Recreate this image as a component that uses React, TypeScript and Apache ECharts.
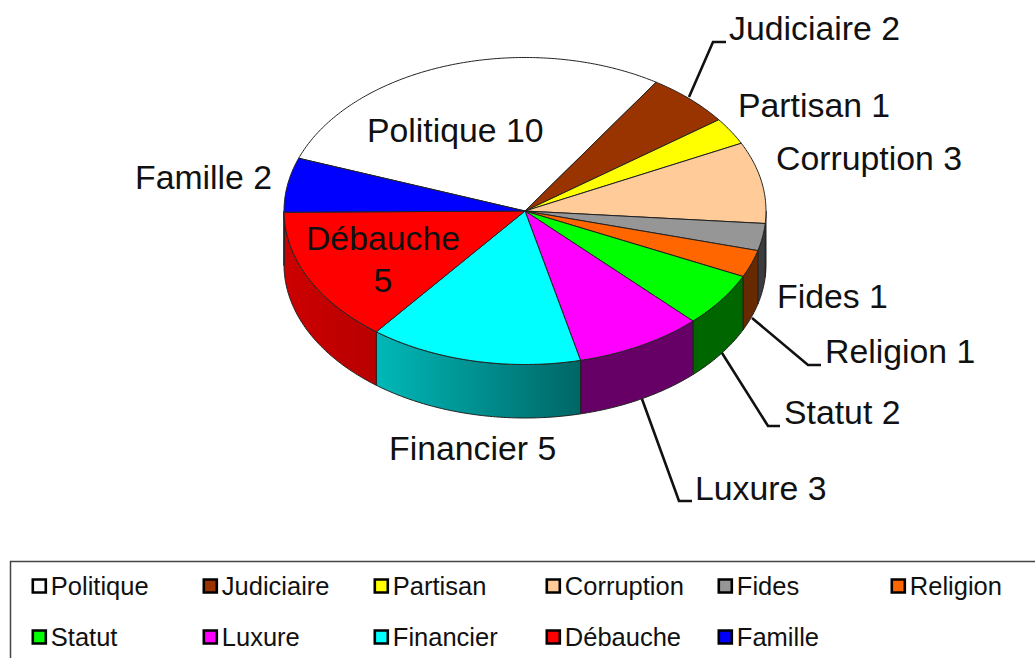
import React, { useEffect, useRef } from "react";
import * as echarts from "echarts";

const categories = ["Politique", "Judiciaire", "Partisan", "Corruption", "Fides", "Religion", "Statut", "Luxure", "Financier", "Débauche", "Famille"];
const values = [10, 2, 1, 3, 1, 1, 2, 3, 5, 5, 2];
const colors = ["#FFFFFF", "#993300", "#FFFF00", "#FFCC99", "#969696", "#FF6600", "#00FF00", "#FF00FF", "#00FFFF", "#FF0000", "#0000FF"];

// layout
const CX = 525, CY = 211, RX = 241, RY = 153.5, DEPTH = 53.5, START = -69.9;
const FONT = "Liberation Sans, Arial, sans-serif";
const LABEL_SIZE = 33.8;
const labelPos: [number, number][] = [
  [367, 130], [729, 28], [738, 105], [776, 158], [777, 296], [825, 351],
  [784, 412], [695, 488], [389, 448], [383, 259], [135, 177],
];
const leaders: ([number, number][] | null)[] = [
  null,
  [[689, 97], [713, 42], [726, 42]],
  null, null, null,
  [[752, 318], [808, 365], [821, 365]],
  [[722, 353], [768, 426], [780, 426]],
  [[642, 399], [679, 501], [692, 501]],
  null, null, null,
];
const legendCols = [31.5, 202.5, 373.5, 545.5, 717.5, 890.5];
const legendRows = [573, 624];
const LEGEND_PER_ROW = 6;

const total = values.reduce((a, b) => a + b, 0);
const pt = (deg: number, dy = 0): [number, number] => {
  const r = (deg * Math.PI) / 180;
  return [CX + RX * Math.sin(r), CY - RY * Math.cos(r) + dy];
};
const arc = (a0: number, a1: number, dy = 0) => {
  const n = Math.max(2, Math.ceil(Math.abs(a1 - a0) * 1.5));
  const out: [number, number][] = [];
  for (let i = 0; i <= n; i++) out.push(pt(a0 + ((a1 - a0) * i) / n, dy));
  return out;
};
const shade = (x: number) => {
  if (x <= 377) return 0.8 - ((x - 284) / 93) * 0.08;
  if (x >= 580) return 0.4;
  return 0.72 - ((x - 377) / 203) * 0.32;
};
const darken = (hex: string, k: number) => {
  const n = parseInt(hex.slice(1), 16);
  const c = [(n >> 16) & 255, (n >> 8) & 255, n & 255].map((v) => Math.round(v * k));
  return `rgb(${c[0]},${c[1]},${c[2]})`;
};

const makeRender = (i: number) => () => {
  const before = values.slice(0, i).reduce((a, b) => a + b, 0);
  const a0 = START + (before / total) * 360;
  const a1 = a0 + (values[i] / total) * 360;
  const children: any[] = [];
  // side wall: the part of the slice's rim on the front half of the ellipse
  const w0 = Math.max(a0, 90);
  const w1 = Math.min(a1, 270);
  if (w1 > w0) {
    const top = arc(w0, w1);
    const bottom = arc(w1, w0, DEPTH);
    const xa = Math.min(pt(w0)[0], pt(w1)[0]);
    const xb = Math.max(pt(w0)[0], pt(w1)[0]);
    children.push({
      type: "polygon",
      z2: 1,
      shape: { points: [...top, ...bottom] },
      style: {
        fill: new echarts.graphic.LinearGradient(0, 0, 1, 0, [
          { offset: 0, color: darken(colors[i], shade(xa)) },
          { offset: 1, color: darken(colors[i], shade(xb)) },
        ]),
        stroke: "#222",
        lineWidth: 1,
      },
    });
  }
  children.push({
    type: "polygon",
    z2: 2,
    shape: { points: [[CX, CY], ...arc(a0, a1)] },
    style: { fill: colors[i], stroke: "#222", lineWidth: 1 },
  });
  const lead = leaders[i];
  if (lead) {
    children.push({
      type: "polyline",
      z2: 3,
      shape: { points: lead },
      style: { fill: "none", stroke: "#111", lineWidth: 2.6 },
    });
  }
  const multi = categories[i] === "Débauche";
  children.push({
    type: "text",
    z2: 4,
    style: {
      text: categories[i] + (multi ? "\n" : " ") + values[i],
      x: labelPos[i][0],
      y: labelPos[i][1],
      fontSize: LABEL_SIZE,
      fontFamily: FONT,
      fill: "#111",
      align: multi ? "center" : "left",
      verticalAlign: "middle",
      lineHeight: 42,
    },
  });
  return { type: "group", children };
};

export default function App() {
  const ref = useRef<HTMLDivElement>(null);
  useEffect(() => {
    const chart = echarts.init(ref.current!, undefined, { renderer: "svg" });
    chart.setOption({
      animation: false,
      backgroundColor: "#fff",
      graphic: [
        {
          type: "rect",
          silent: true,
          z: -1,
          shape: { x: 10.5, y: 561.5, width: 1040, height: 120 },
          style: { fill: "#fff", stroke: "#444", lineWidth: 1.5 },
        },
      ],
      legend: categories.map((name, i) => ({
        show: true,
        selectedMode: false,
        left: legendCols[i % LEGEND_PER_ROW],
        top: legendRows[Math.floor(i / LEGEND_PER_ROW)],
        padding: 0,
        itemWidth: 13,
        itemHeight: 13,
        textStyle: { fontSize: 25.5, fontFamily: FONT, color: "#111" },
        data: [
          {
            name,
            icon: "rect",
            itemStyle: { color: colors[i], borderColor: "#000", borderWidth: 2.6 },
          },
        ],
      })),
      series: categories.map((name, i) => ({
        type: "custom",
        name,
        coordinateSystem: "none",
        silent: true,
        itemStyle: { color: colors[i] },
        data: [values[i]],
        renderItem: makeRender(i),
      })),
    });
    return () => chart.dispose();
  }, []);
  return (
    <div
      ref={ref}
      style={{ position: "absolute", left: 0, top: 0, width: 1035, height: 658, overflow: "hidden" }}
    />
  );
}
